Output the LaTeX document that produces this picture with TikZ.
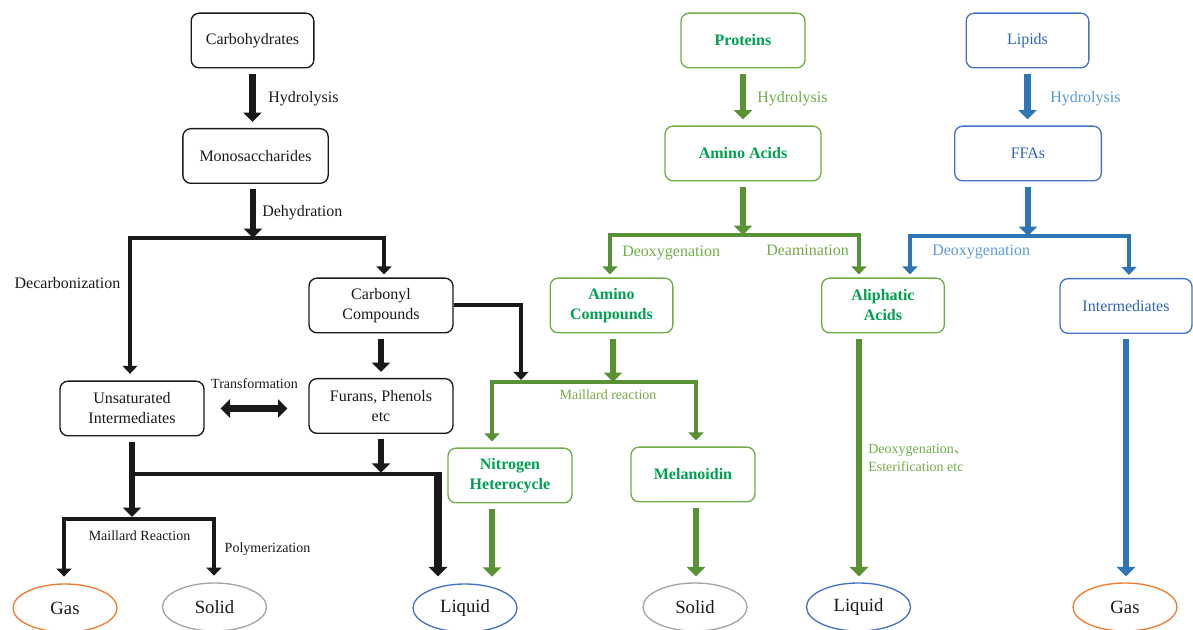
\documentclass[tikz,border=0pt]{standalone}
\usepackage{fontspec}
\setmainfont{Liberation Serif}
\newfontfamily\cjkfont{Noto Sans CJK SC}
\usetikzlibrary{arrows.meta,shapes.geometric}

\definecolor{inkblack}{RGB}{25,25,25}
\definecolor{grnline}{RGB}{112,173,71}
\definecolor{grntext}{RGB}{0,160,80}
\definecolor{grnarrow}{RGB}{88,146,52}
\definecolor{bluline}{RGB}{68,114,196}
\definecolor{blutext}{RGB}{46,100,180}
\definecolor{bluarrow}{RGB}{46,117,182}
\definecolor{blulabel}{RGB}{91,155,213}
\definecolor{gasorange}{RGB}{237,125,49}
\definecolor{solidgray}{RGB}{165,165,165}

\begin{document}
\begin{tikzpicture}[x=0.75pt,y=0.75pt,yscale=-1,xscale=1,
  blackbox/.style={draw=inkblack, text=inkblack, rounded corners=6pt, line width=1pt, minimum height=41pt, inner sep=2pt, align=center, font=\fontsize{12}{15}\selectfont},
  greenbox/.style={blackbox, draw=grnline, text=grntext, font=\fontsize{12}{15}\selectfont\bfseries},
  bluebox/.style={blackbox, draw=bluline, text=blutext},
  phase/.style={ellipse, draw, line width=1pt, minimum width=78pt, minimum height=36pt, inner sep=0pt, text=inkblack, font=\fontsize{14}{16}\selectfont},
  lbl/.style={inner sep=0pt, text=inkblack, font=\fontsize{12}{14}\selectfont},
  smlbl/.style={inner sep=0pt, text=inkblack, font=\fontsize{10.5}{13.5}\selectfont},
  flow/.style={color=inkblack, line width=5pt, >={Triangle[width=13.5pt,length=7pt]}, ->, shorten <=4pt, shorten >=4.5pt},
  fork/.style={color=inkblack, line width=3pt, >={Triangle[width=11pt,length=6pt]}, <->},
  bar/.style={color=inkblack, line width=3pt, >={Triangle[width=11pt,length=6pt]}, ->},
  barline/.style={color=inkblack, line width=2.5pt}]
\useasboundingbox (0,0) rectangle (1193,630);

%Shape: Carbohydrates column
\node[blackbox, minimum width=92pt] (carb) at (252.5,40.5) {Carbohydrates};
\node[blackbox, minimum width=109pt] (mono) at (255.5,156) {Monosaccharides};
\node[blackbox, minimum width=108pt] (carbonyl) at (381,305.5) {Carbonyl\\Compounds};
\node[blackbox, minimum width=108pt] (furans) at (381,406) {Furans, Phenols\\etc};
\node[blackbox, minimum width=108pt] (unsat) at (132,408.5) {Unsaturated\\Intermediates};

%Shape: Proteins column
\node[greenbox, minimum width=93pt] (prot) at (743,40.5) {Proteins};
\node[greenbox, minimum width=117pt] (amino) at (743,153.5) {Amino Acids};
\node[greenbox, minimum width=92pt] (aminocomp) at (611.5,305.5) {Amino\\Compounds};
\node[greenbox, minimum width=92pt] (aliph) at (883,305.5) {Aliphatic\\Acids};
\node[greenbox, minimum width=93pt] (nitro) at (510,475.5) {Nitrogen\\Heterocycle};
\node[greenbox, minimum width=93pt] (melan) at (693,474.5) {Melanoidin};

%Shape: Lipids column
\node[bluebox, minimum width=92pt] (lipids) at (1027.5,40.5) {Lipids};
\node[bluebox, minimum width=110pt] (ffa) at (1028,153.5) {FFAs};
\node[bluebox, minimum width=99pt] (interm) at (1126,306) {Intermediates};

%Shape: Ellipse products
\node[phase, draw=gasorange] (gasA) at (65,608) {Gas};
\node[phase, draw=solidgray] (solidA) at (214.5,607) {Solid};
\node[phase, draw=bluline] (liqA) at (465,608) {Liquid};
\node[phase, draw=solidgray] (solidB) at (695,607) {Solid};
\node[phase, draw=bluline] (liqB) at (858.5,607) {Liquid};
\node[phase, draw=gasorange] (gasB) at (1125,607) {Gas};

% junction points
\coordinate (dehyd) at (253,238);
\coordinate (decL) at (130,238);
\coordinate (decR) at (384,238);
\coordinate (carbJ) at (521,380);
\coordinate (unsJ) at (132,474);
\coordinate (liqJ) at (438,472.3);
\coordinate (polyL) at (64,519);
\coordinate (polyR) at (214,519);
\coordinate (amJ) at (743,235);
\coordinate (deoxL) at (610,235);
\coordinate (deamR) at (859,235);
\coordinate (mailJ) at (613,382);
\coordinate (mailL) at (492,382);
\coordinate (mailR) at (696,382);
\coordinate (ffaJ) at (1028,236);
\coordinate (lipL) at (910,236);
\coordinate (lipR) at (1129,236);

% Text Node
\node[lbl, anchor=west] (hydA) at (268,99) {Hydrolysis};
\node[lbl, anchor=west] (dehydlbl) at (262,213) {Dehydration};
\node[lbl] (decarb) at (67.5,283) {Decarbonization};
\node[smlbl] (transf) at (254.5,384) {Transformation};
\node[smlbl] (maillA) at (139.5,536) {Maillard Reaction};
\node[smlbl] (polym) at (267.5,549) {Polymerization};
\node[lbl, anchor=west, text=grnline] (hydB) at (757,99) {Hydrolysis};
\node[lbl, anchor=west, text=grnline] (deoxB) at (622,253) {Deoxygenation};
\node[lbl, anchor=west, text=grnline] (deam) at (766,250) {Deamination};
\node[smlbl, text=grnline] (maillB) at (608,395) {Maillard reaction};
\node[smlbl, anchor=west, align=left, text=grnline] (ester) at (868,458) {Deoxygenation{\cjkfont 、}\\Esterification etc};
\node[lbl, anchor=west, text=blulabel] (hydC) at (1050,99) {Hydrolysis};
\node[lbl, anchor=west, text=blulabel] (deoxC) at (932,252) {Deoxygenation};

% Connection (carbohydrates)
\draw[flow] (carb.south) -- (carb.south |- mono.north);
\draw[flow, shorten >=0pt] (dehyd |- mono.south) -- (dehyd);
\draw[fork, shorten <=5pt, shorten >=2.25pt] (decL |- unsat.north) -- (decL) -- (decR) -- (decR |- carbonyl.north);
\draw[bar] (carbonyl.east) -| (carbJ);
\draw[flow] (carbonyl.south) -- (furans.north);
\draw[flow, <->, shorten <=12pt, shorten >=15.75pt] (unsat.east) -- (unsat.east -| furans.west);
\draw[flow, shorten >=1.5pt] (unsat.south) -- (unsat.south |- polyL);
\draw[flow, shorten >=1pt] (furans.south) -- (furans.south |- unsJ);
\draw[barline] (unsJ) -- (liqJ |- unsJ);
\draw[flow, line width=6pt, shorten <=0pt, shorten >=5.25pt] (liqJ) -- (liqJ |- liqA.north);
\draw[fork, shorten <=5pt, shorten >=5pt] (polyL |- gasA.north) -- (polyL) -- (polyR) -- (polyR |- solidA.north);

% Connection (proteins)
\draw[flow, grnarrow] (prot.south) -- (amino.north);
\draw[flow, grnarrow, shorten >=0pt] (amino.south) -- (amJ);
\draw[fork, grnarrow, shorten <=2.25pt, shorten >=2.25pt] (deoxL |- aminocomp.north) -- (deoxL) -- (deamR) -- (deamR |- aliph.north);
\draw[flow, grnarrow, shorten >=0pt] (mailJ |- aminocomp.south) -- (mailJ);
\draw[fork, grnarrow, shorten <=4.5pt, shorten >=4.5pt] (mailL |- nitro.north) -- (mailL) -- (mailR) -- (mailR |- melan.north);
\draw[flow, grnarrow, shorten >=5pt] (mailL |- nitro.south) -- (mailL |- liqA.north);
\draw[flow, grnarrow] (mailR |- melan.south) -- (mailR |- solidB.north);
\draw[flow, grnarrow, line width=4pt] (deamR |- aliph.south) -- (deamR |- liqB.north);

% Connection (lipids)
\draw[flow, bluarrow] (lipids.south) -- (lipids.south |- ffa.north);
\draw[flow, bluarrow, shorten >=0pt] (ffaJ |- ffa.south) -- (ffaJ);
\draw[fork, bluarrow, shorten <=2.25pt, shorten >=2.25pt] (lipL |- aliph.north) -- (lipL) -- (lipR) -- (lipR |- interm.north);
\draw[flow, bluarrow] (interm.south) -- (interm.south |- gasB.north);

\end{tikzpicture}
\end{document}
